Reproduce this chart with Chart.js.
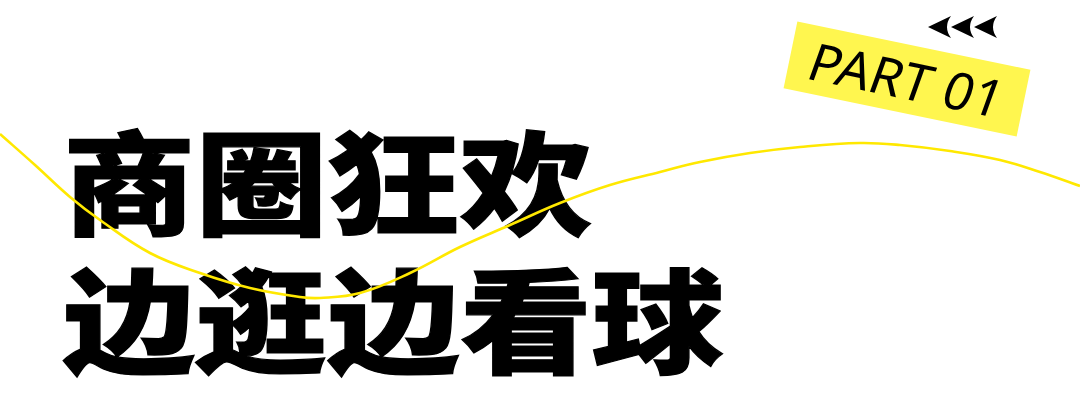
<!DOCTYPE html>
<html>
<head>
<meta charset="utf-8">
<script src="https://cdn.jsdelivr.net/npm/chart.js@4.4.1/dist/chart.umd.min.js"></script>
<style>
  html, body { margin: 0; padding: 0; background: #ffffff; }
  #stage { position: relative; width: 1080px; height: 403px; overflow: hidden; background: #ffffff; }
  .title {
    position: absolute; left: 63px; white-space: nowrap;
    font-family: "Noto Sans CJK SC", sans-serif; font-weight: 900;
    font-size: 113px; line-height: 113px; color: #000;
    -webkit-text-stroke: 1.2px #000;
    transform: scaleX(1.17); transform-origin: 0 0;
  }
  #badge {
    position: absolute; left: 788px; top: 45px; width: 238px; height: 68px;
    background: #fff64f; transform: rotate(11.7deg); transform-origin: 50% 50%;
    display: flex; align-items: center; justify-content: center;
  }
  #badge span {
    font-family: "Noto Sans", sans-serif; font-weight: 400; font-size: 52px;
    line-height: 52px; color: #000; display: inline-block; transform: skewX(-8deg);
    white-space: nowrap;
  }
  #chartWrap { position: absolute; left: 0; top: 0; width: 1080px; height: 403px; pointer-events: none; }
</style>
</head>
<body>
<div id="stage">
  <div id="badge"><span id="badgeText"></span></div>
  <div class="title" id="line1" style="top:121px"></div>
  <div class="title" id="line2" style="top:259px"></div>
  <div id="chartWrap"><canvas id="c" width="1080" height="403"></canvas></div>
</div>
<script>
// ---- data ----
const titleLines = ['商圈狂欢', '边逛边看球'];
const badgeLabel = 'PART 01';
const waveX = [0, 35, 70, 100, 150, 200, 250, 300, 320, 360, 410, 460, 510, 560, 610, 660, 700, 750, 800, 860, 900, 950, 1000, 1040, 1080];
const waveY = [134, 165, 197, 220, 253, 273, 288, 297, 298, 293, 273, 247, 225, 203, 185, 172, 162, 153, 147, 143, 145, 151, 160, 172, 186];
const arrowX = [940, 963, 986];
const arrowY = [27, 27, 27];

document.getElementById('line1').textContent = titleLines[0];
document.getElementById('line2').textContent = titleLines[1];
document.getElementById('badgeText').textContent = badgeLabel;

// arrowhead point style
function makeArrow() {
  const cv = document.createElement('canvas');
  cv.width = 24; cv.height = 24;
  const g = cv.getContext('2d');
  g.fillStyle = '#000';
  g.beginPath();
  g.moveTo(0, 12);
  g.lineTo(23, 1);
  g.quadraticCurveTo(15, 12, 23, 23);
  g.closePath();
  g.fill();
  return cv;
}
const arrowImg = makeArrow();

const wavePts = waveX.map((x, i) => ({ x: x, y: waveY[i] }));
const arrowPts = arrowX.map((x, i) => ({ x: x, y: arrowY[i] }));

new Chart(document.getElementById('c'), {
  type: 'line',
  data: {
    datasets: [
      {
        data: wavePts, borderColor: '#ffe800', borderWidth: 2.6,
        pointRadius: 0, tension: 0.4, fill: false, clip: false
      },
      {
        type: 'scatter', data: arrowPts, pointStyle: arrowImg,
        pointRadius: 12, showLine: false, clip: false
      }
    ]
  },
  options: {
    responsive: false, animation: false, maintainAspectRatio: false,
    layout: { padding: 0, autoPadding: false },
    plugins: { legend: { display: false }, tooltip: { enabled: false } },
    scales: {
      x: { type: 'linear', min: 0, max: 1080, display: false },
      y: { type: 'linear', min: 0, max: 403, reverse: true, display: false }
    }
  }
});
</script>
</body>
</html>
